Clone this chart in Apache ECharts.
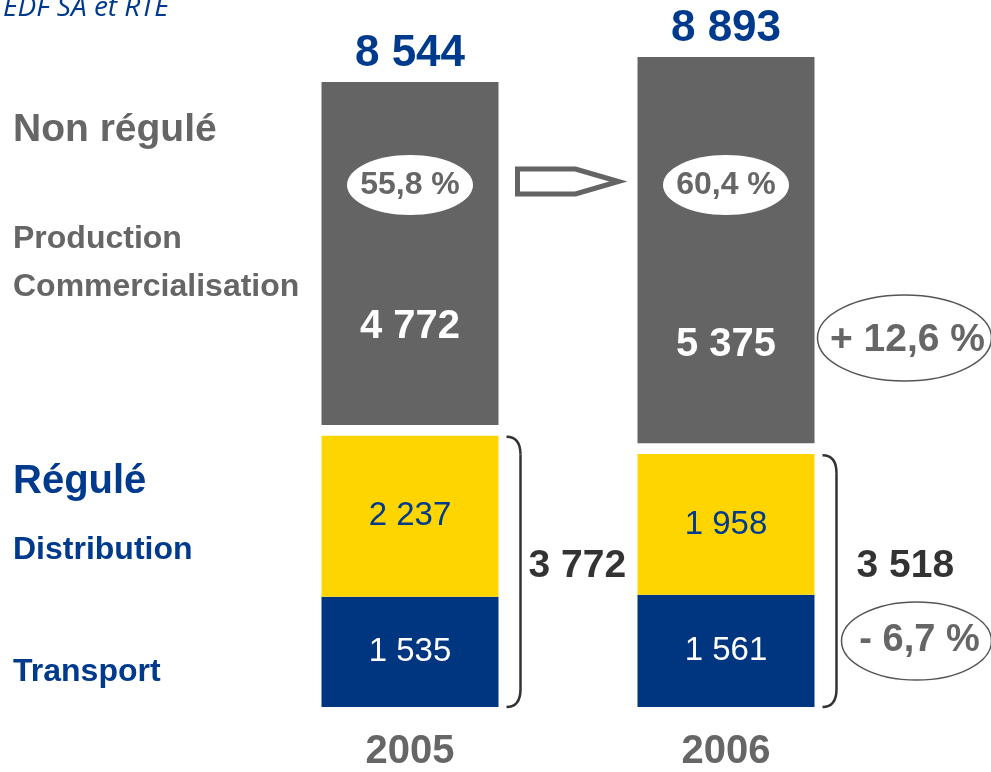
<!DOCTYPE html>
<html>
<head>
<meta charset="utf-8">
<script src="https://cdn.jsdelivr.net/npm/echarts@6/dist/echarts.min.js"></script>
<style>
  html, body {margin: 0; padding: 0; background: #fff;}
  #main {width: 991px; height: 772px;}
</style>
</head>
<body>
<div id="main"></div>
<script>
  // données (M€), telles qu'affichées sur le visuel
  var years = ['2005', '2006'];
  var transport = [1535, 1561];
  var distribution = [2237, 1958];
  var nonRegule = [4772, 5375];
  var regule = [3772, 3518];
  var total = [8544, 8893];
  var partNonRegule = ['55,8 %', '60,4 %'];
  var evolNonRegule = '+ 12,6 %';
  var evolRegule = '- 6,7 %';

  var FONT = '"Liberation Sans", Arial, sans-serif';
  var GRAY = '#646464', YELLOW = '#FFD500', NAVY = '#003580';
  var TXT_GRAY = '#666666', TXT_NAVY = '#003A8C', DARK = '#333333';
  var GAP = 150; // blanc entre régulé et non régulé
  var BAR_W = 177;

  function fmt(n) {
    return String(n).replace(/\B(?=(\d{3})+(?!\d))/g, ' ');
  }

  var myChart = echarts.init(document.getElementById('main'));
  var option = {
    animation: false,
    grid: {left: 252, right: 107, top: 57, bottom: 65},
    xAxis: {
      type: 'category',
      data: years,
      axisLine: {show: false},
      axisTick: {show: false},
      axisLabel: {margin: 25, fontSize: 40, fontWeight: 'bold', color: TXT_GRAY, fontFamily: FONT}
    },
    yAxis: {type: 'value', min: 0, max: Math.max.apply(null, total) + GAP, show: false},
    series: [
      {
        name: 'Transport', type: 'bar', stack: 'a', barWidth: BAR_W, data: transport,
        itemStyle: {color: NAVY},
        label: {show: true, position: 'inside', color: '#fff', fontSize: 33, fontFamily: FONT, formatter: function (p) { return fmt(p.value); }}
      },
      {
        name: 'Distribution', type: 'bar', stack: 'a', data: distribution,
        itemStyle: {color: YELLOW},
        label: {show: true, position: 'inside', color: TXT_NAVY, fontSize: 33, fontFamily: FONT, formatter: function (p) { return fmt(p.value); }}
      },
      {
        name: 'ecart', type: 'bar', stack: 'a', silent: true, data: years.map(function () { return GAP; }),
        itemStyle: {color: 'rgba(0,0,0,0)'}
      },
      {
        name: 'Non régulé', type: 'bar', stack: 'a', data: nonRegule,
        itemStyle: {color: GRAY},
        label: {show: true, position: 'insideBottom', distance: 78, color: '#fff', fontSize: 40, fontWeight: 'bold', fontFamily: FONT, formatter: function (p) { return fmt(p.value); }}
      }
    ]
  };
  myChart.setOption(option);

  function px(i, v) {
    return myChart.convertToPixel({seriesIndex: 0}, [i, v]);
  }
  function txt(x, y, s, size, color, extra) {
    var style = {
      text: s, fill: color, fontSize: size, fontWeight: 'bold', fontFamily: FONT,
      align: 'left', verticalAlign: 'middle', textAlign: 'left', textVerticalAlign: 'middle'
    };
    for (var k in extra) style[k] = extra[k];
    return {type: 'text', x: x, y: y, z: 100, style: style};
  }
  var centerStyle = {align: 'center', textAlign: 'center'};

  var half = BAR_W / 2;
  var g = [];

  // titre et libellés de gauche
  g.push(txt(3, 8, 'EDF SA et RTE', 28, TXT_NAVY, {fontStyle: 'italic', fontWeight: 'normal', fontFamily: '"Open Sans", sans-serif'}));
  g.push(txt(13, 130, 'Non régulé', 39, TXT_GRAY));
  g.push(txt(13, 239, 'Production', 32, TXT_GRAY));
  g.push(txt(13, 287, 'Commercialisation', 32, TXT_GRAY));
  g.push(txt(13, 482, 'Régulé', 40, TXT_NAVY));
  g.push(txt(13, 550, 'Distribution', 32, TXT_NAVY));
  g.push(txt(13, 672, 'Transport', 32, TXT_NAVY));

  years.forEach(function (y, i) {
    var top = px(i, total[i] + GAP);
    var cx = top[0];
    // total au-dessus de la barre
    g.push(txt(cx, top[1] - 28, fmt(total[i]), 44, TXT_NAVY, centerStyle));
    // part du non régulé
    g.push({type: 'ellipse', z: 90, shape: {cx: cx, cy: 185, rx: 63, ry: 30}, style: {fill: '#fff'}});
    g.push(txt(cx, 185, partNonRegule[i], 32, TXT_GRAY, centerStyle));
    // accolade du régulé
    var yTop = px(i, regule[i])[1] + 1;
    var yBot = px(i, 0)[1];
    var x0 = cx + half + 8, x1 = x0 + 14;
    var line = {stroke: DARK, lineWidth: 2.5, fill: null};
    g.push({type: 'bezierCurve', z: 90, shape: {x1: x0, y1: yTop, cpx1: x1, cpy1: yTop, x2: x1, y2: yTop + 18}, style: line});
    g.push({type: 'line', z: 90, shape: {x1: x1, y1: yTop + 18, x2: x1, y2: yBot - 18}, style: line});
    g.push({type: 'bezierCurve', z: 90, shape: {x1: x1, y1: yBot - 18, cpx1: x1, cpy1: yBot, x2: x0, y2: yBot}, style: line});
    g.push(txt(x1 + (i ? 20 : 8), 566, fmt(regule[i]), 39, DARK));
  });

  // flèche entre les deux années
  var ax0 = px(0, 0)[0] + half + 19;
  var ax2 = px(1, 0)[0] - half - 19;
  g.push({
    type: 'polygon', z: 90,
    shape: {points: [[ax0, 169], [ax2 - 43, 169], [ax2, 181.5], [ax2 - 43, 194], [ax0, 194]]},
    style: {fill: '#fff', stroke: GRAY, lineWidth: 5}
  });

  // évolutions 2005 -> 2006
  var right = px(1, 0)[0] + half;
  g.push({type: 'ellipse', z: 90, shape: {cx: right + 90, cy: 338, rx: 87, ry: 43}, style: {fill: null, stroke: '#555', lineWidth: 1.5}});
  g.push(txt(right + 93, 340, evolNonRegule, 39, TXT_GRAY, centerStyle));
  g.push({type: 'ellipse', z: 90, shape: {cx: right + 102, cy: 641, rx: 75, ry: 39}, style: {fill: null, stroke: '#555', lineWidth: 1.5}});
  g.push(txt(right + 105, 641, evolRegule, 38, TXT_GRAY, centerStyle));

  myChart.setOption({graphic: g});
</script>
</body>
</html>
